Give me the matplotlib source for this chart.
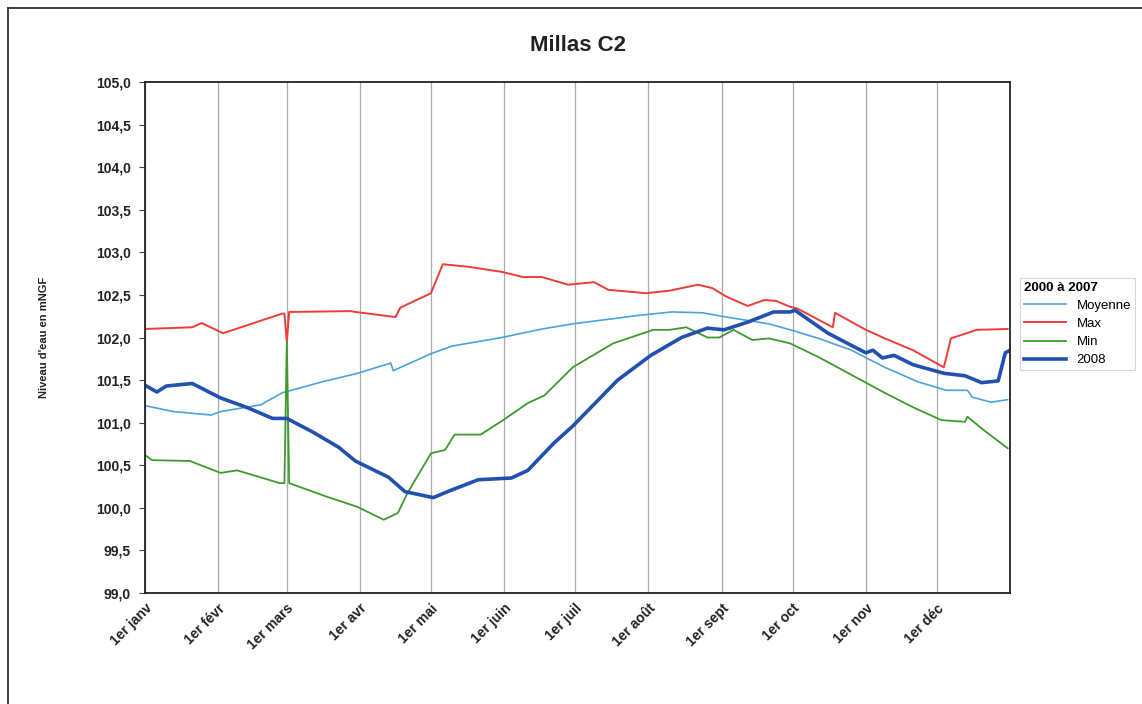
#!/usr/bin/env python3

import matplotlib
matplotlib.use("Agg")
import matplotlib.pyplot as plt
from matplotlib.lines import Line2D

# day of year (0 = 1er janv) and water level (mNGF)
max_days = [0, 20, 24, 33, 58, 59, 60, 61, 62, 87, 89, 106, 108, 121, 126, 137, 151, 160, 168, 179,
            190, 196, 212, 222, 234, 240, 246, 255, 262, 267, 273, 276, 291, 292, 305, 313, 325, 338,
            341, 352, 365]
max_vals = [102.10, 102.12, 102.17, 102.05, 102.28, 102.28, 101.95, 102.30, 102.30, 102.31, 102.30,
            102.24, 102.35, 102.52, 102.86, 102.83, 102.77, 102.71, 102.71, 102.62, 102.65, 102.56,
            102.52, 102.55, 102.62, 102.58, 102.48, 102.37, 102.44, 102.43, 102.36, 102.34, 102.12,
            102.29, 102.09, 101.99, 101.85, 101.65, 101.99, 102.09, 102.10]

moy_days = [0, 12, 28, 32, 49, 58, 75, 90, 104, 105, 121, 130, 151, 168, 181, 209, 223, 236, 246,
            255, 264, 273, 285, 299, 313, 327, 339, 348, 350, 358, 365]
moy_vals = [101.20, 101.13, 101.09, 101.13, 101.21, 101.35, 101.48, 101.58, 101.70, 101.61, 101.81,
            101.90, 102.00, 102.10, 102.16, 102.26, 102.30, 102.29, 102.24, 102.20, 102.16, 102.09,
            101.99, 101.85, 101.65, 101.48, 101.38, 101.38, 101.30, 101.24, 101.27]

min_days = [0, 3, 19, 32, 39, 57, 59, 60, 61, 77, 90, 101, 107, 111, 121, 127, 131, 142, 151, 162,
            169, 181, 198, 215, 222, 229, 238, 243, 249, 257, 264, 273, 285, 299, 313, 325, 337, 347,
            348, 355, 365]
min_vals = [100.62, 100.56, 100.55, 100.41, 100.44, 100.29, 100.29, 101.95, 100.29, 100.13, 100.01,
            99.86, 99.94, 100.17, 100.64, 100.68, 100.86, 100.86, 101.02, 101.23, 101.32, 101.65,
            101.93, 102.09, 102.09, 102.12, 102.00, 102.00, 102.09, 101.97, 101.99, 101.93, 101.77,
            101.56, 101.35, 101.18, 101.03, 101.01, 101.07, 100.91, 100.70]

y2008_days = [0, 5, 9, 20, 32, 43, 54, 60, 71, 82, 89, 103, 110, 122, 128, 141, 155, 162, 173, 181,
              200, 214, 227, 238, 245, 255, 266, 273, 275, 289, 305, 308, 312, 317, 325, 338, 347,
              354, 361, 364, 366]
y2008_vals = [101.44, 101.36, 101.43, 101.46, 101.29, 101.18, 101.05, 101.05, 100.89, 100.71, 100.55,
              100.36, 100.19, 100.12, 100.19, 100.33, 100.35, 100.44, 100.76, 100.96, 101.50, 101.79,
              102.00, 102.11, 102.09, 102.18, 102.30, 102.30, 102.32, 102.05, 101.82, 101.85, 101.76,
              101.79, 101.68, 101.58, 101.55, 101.47, 101.49, 101.82, 101.85]

month_starts = [0, 31, 60, 91, 121, 152, 182, 213, 244, 274, 305, 335]
month_labels = ['1er janv', '1er févr', '1er mars', '1er avr', '1er mai', '1er juin',
                '1er juil', '1er août', '1er sept', '1er oct', '1er nov', '1er déc']

plt.rcParams['font.family'] = ['Liberation Sans', 'DejaVu Sans']

fig = plt.figure(figsize=(11.42, 7.04), dpi=100)
ax = fig.add_axes([145 / 1142, 111 / 704, 865 / 1142, 511 / 704])

ax.plot(moy_days, moy_vals, color='#4ba3dc', lw=1.2, label='Moyenne')
ax.plot(max_days, max_vals, color='#ee3b3b', lw=1.4, label='Max')
ax.plot(min_days, min_vals, color='#3e9a2e', lw=1.3, label='Min')
ax.plot(y2008_days, y2008_vals, color='#2150b0', lw=2.6, label='2008')

ax.set_xlim(0, 366)
ax.set_ylim(99, 105)
ax.set_xticks(month_starts)
ax.set_xticklabels(month_labels, rotation=45, ha='right', rotation_mode='anchor',
                   fontsize=10, fontweight='bold', color='#222222')
ax.tick_params(axis='x', length=0, pad=6)
yt = [99 + 0.5 * i for i in range(13)]
ax.set_yticks(yt)
ax.set_yticklabels([('%.1f' % v).replace('.', ',') for v in yt], fontsize=10,
                   fontweight='bold', color='#222222')
ax.tick_params(axis='y', length=4, direction='out', color='#444444', pad=6)
ax.grid(axis='x', color='#aaaaaa', lw=0.9)
for s in ax.spines.values():
    s.set_color('#222222')
    s.set_linewidth(1.3)

ax.set_ylabel("Niveau d'eau en mNGF", fontsize=8, fontweight='bold', color='#222222', labelpad=34)
ax.set_title('Millas C2', fontsize=16, fontweight='bold', pad=22, color='#222222')

leg = ax.legend(loc='upper left', bbox_to_anchor=(1.004, 0.63), fontsize=9.5, frameon=True,
                fancybox=False, edgecolor='#cccccc', handlelength=3.2, borderpad=0.3,
                labelspacing=0.45, title='2000 à 2007',
                title_fontproperties={'weight': 'bold', 'size': 9.5})
leg._legend_box.align = 'left'
leg.get_frame().set_linewidth(0.8)

# scanned outer frame (top and left edges)
fig.add_artist(Line2D([8 / 1142, 8 / 1142], [1 - 8 / 704, 0], color='#333333', lw=1.3))
fig.add_artist(Line2D([8 / 1142, 1], [1 - 8 / 704, 1 - 8 / 704], color='#333333', lw=1.3))

fig.savefig('out.png', dpi=100)
